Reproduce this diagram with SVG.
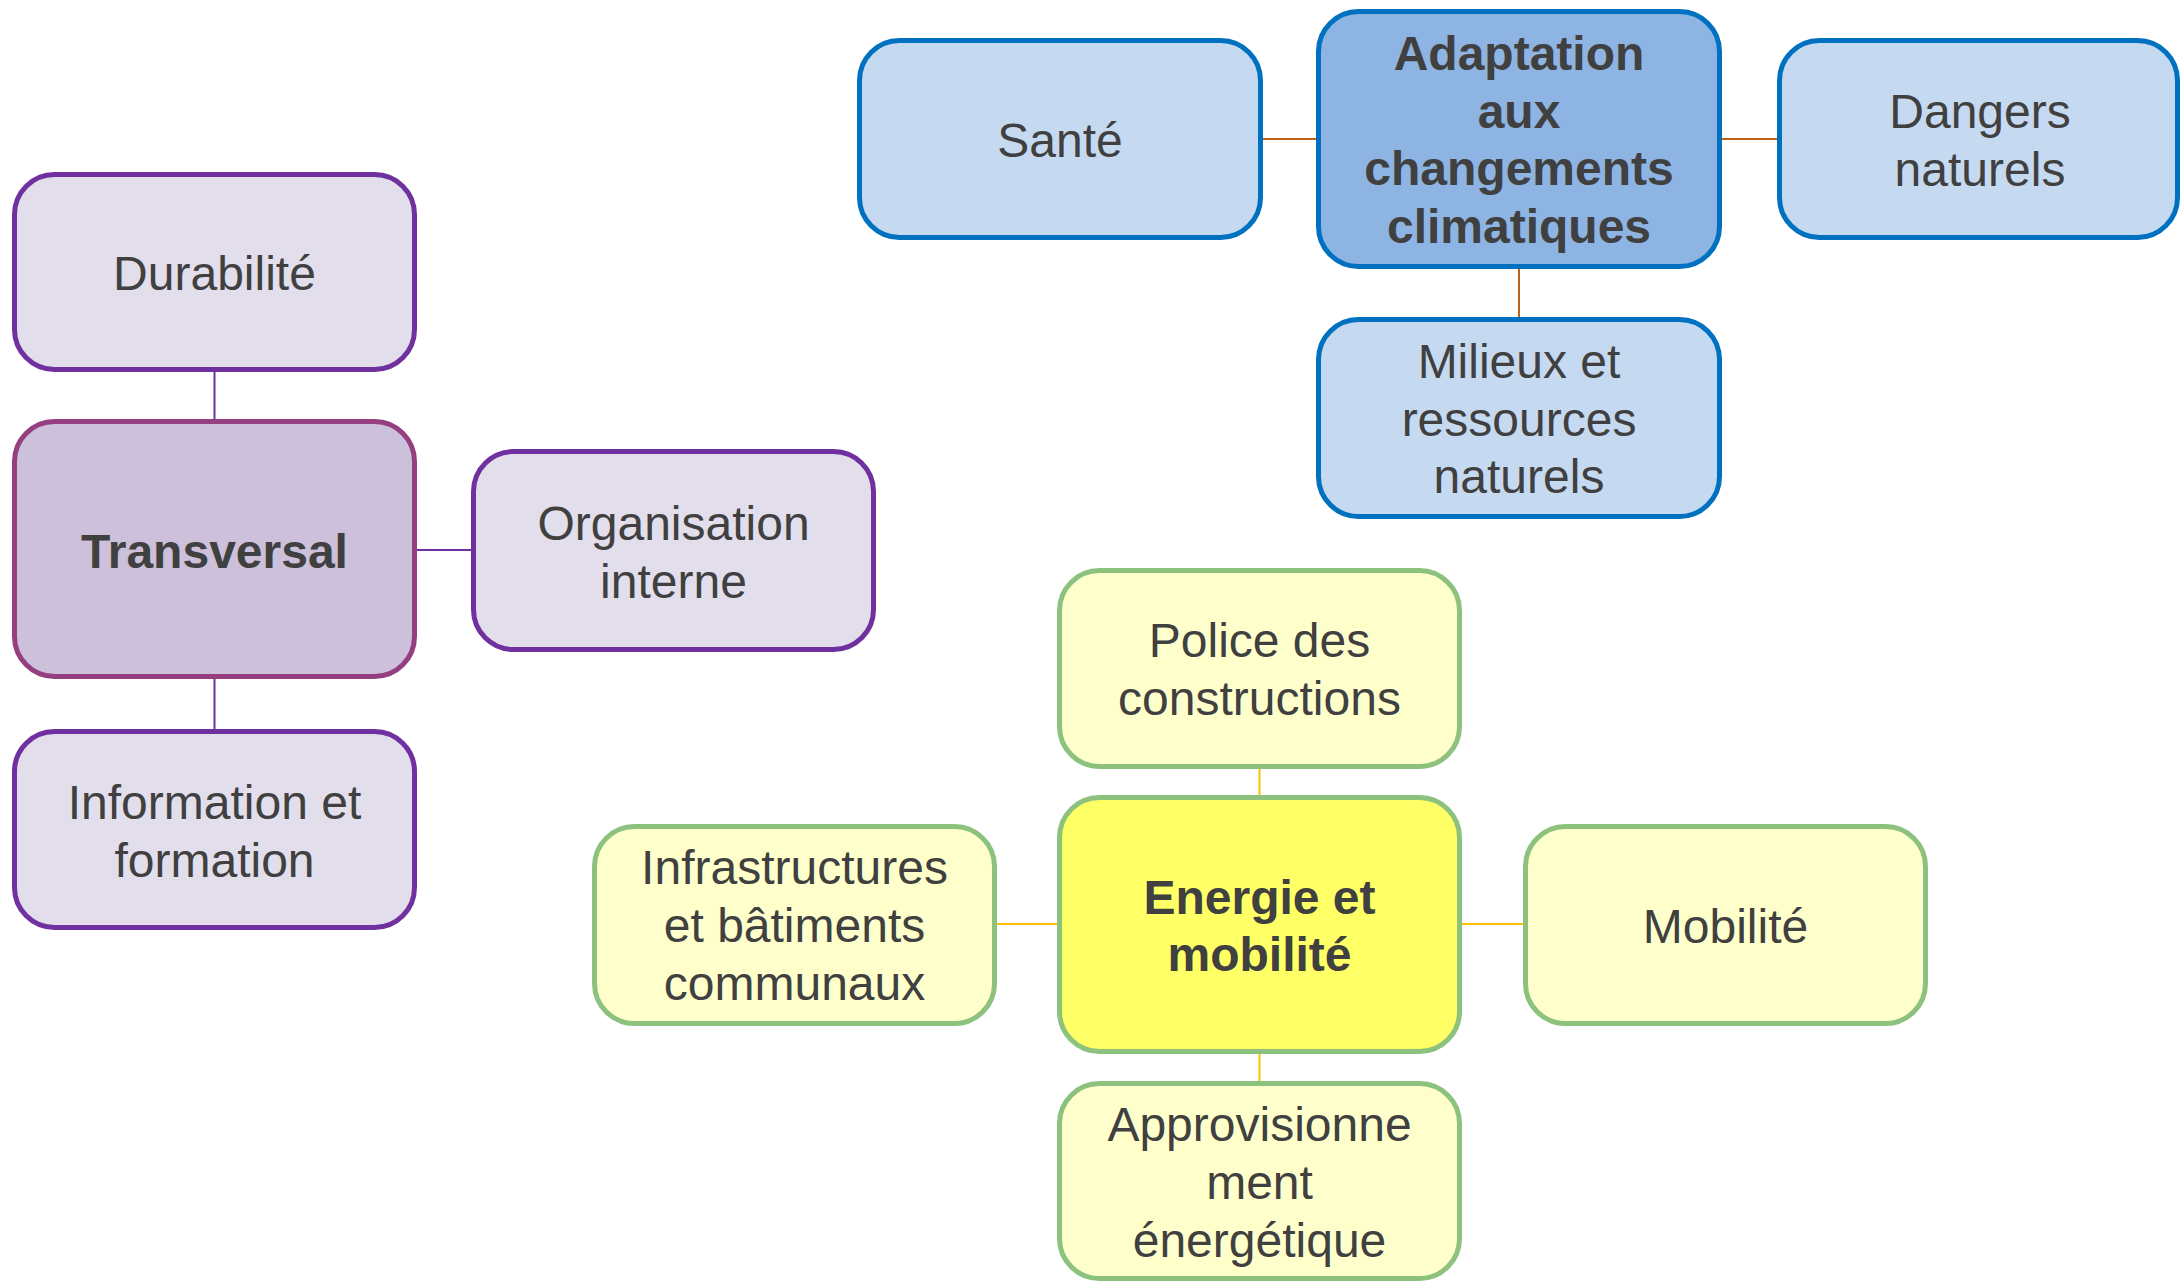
<svg xmlns="http://www.w3.org/2000/svg" width="2180" height="1281" viewBox="0 0 2180 1281">
<style>
text{font-family:"Liberation Sans",Arial,sans-serif;font-size:48px;fill:#404040;text-anchor:middle}
.b{font-weight:bold}
rect{stroke-width:5}
.p{fill:#E2DEEC;stroke:#7030A0}
.pc{fill:#CCC0DA;stroke:#953F80}
.bl{fill:#C5D9F1;stroke:#0070C0}
.bc{fill:#8EB4E3;stroke:#0070C0}
.g{fill:#FFFFCC;stroke:#8CC27E}
.gc{fill:#FFFF66;stroke:#8CC27E}
.cp{stroke:#7030A0;stroke-width:2;fill:none}
.co{stroke:#BF6218;stroke-width:2;fill:none}
.cy{stroke:#FFC000;stroke-width:2;fill:none}
</style>
<rect width="2180" height="1281" fill="#FFFFFF" style="stroke:none"/>
<g id="connectors">
<line class="cp" x1="214.5" y1="372" x2="214.5" y2="419"/>
<line class="cp" x1="417" y1="550" x2="471" y2="550"/>
<line class="cp" x1="214.5" y1="679" x2="214.5" y2="729"/>
<line class="co" x1="1263" y1="139" x2="1316" y2="139"/>
<line class="co" x1="1722" y1="139" x2="1777" y2="139"/>
<line class="co" x1="1519" y1="269" x2="1519" y2="317"/>
<line class="cy" x1="1259.5" y1="769" x2="1259.5" y2="795"/>
<line class="cy" x1="997" y1="924" x2="1057" y2="924"/>
<line class="cy" x1="1462" y1="924" x2="1523" y2="924"/>
<line class="cy" x1="1259.5" y1="1054" x2="1259.5" y2="1081"/>
</g>
<g id="durabilite">
<rect class="p" x="14.5" y="174.5" width="400" height="195" rx="40"/>
<text x="214.5" y="290">Durabilité</text>
</g>
<g id="transversal">
<rect class="pc" x="14.5" y="421.5" width="400" height="255" rx="40"/>
<text class="b" x="214.5" y="568">Transversal</text>
</g>
<g id="organisation">
<rect class="p" x="473.5" y="451.5" width="400" height="198" rx="40"/>
<text x="673.5" y="540">Organisation</text>
<text x="673.5" y="598">interne</text>
</g>
<g id="information">
<rect class="p" x="14.5" y="731.5" width="400" height="196" rx="40"/>
<text x="214.5" y="819">Information et</text>
<text x="214.5" y="877">formation</text>
</g>
<g id="sante">
<rect class="bl" x="859.5" y="40.5" width="401" height="197" rx="40"/>
<text x="1060" y="157">Santé</text>
</g>
<g id="adaptation">
<rect class="bc" x="1318.5" y="11.5" width="401" height="255" rx="40"/>
<text class="b" x="1519" y="70">Adaptation</text>
<text class="b" x="1519" y="127.6">aux</text>
<text class="b" x="1519" y="185.2">changements</text>
<text class="b" x="1519" y="242.8">climatiques</text>
</g>
<g id="dangers">
<rect class="bl" x="1779.5" y="40.5" width="398" height="197" rx="40"/>
<text x="1980" y="128">Dangers</text>
<text x="1980" y="185.6">naturels</text>
</g>
<g id="milieux">
<rect class="bl" x="1318.5" y="319.5" width="401" height="197" rx="40"/>
<text x="1519" y="378">Milieux et</text>
<text x="1519" y="435.6">ressources</text>
<text x="1519" y="493.2">naturels</text>
</g>
<g id="police">
<rect class="g" x="1059.5" y="570.5" width="400" height="196" rx="40"/>
<text x="1259.5" y="657">Police des</text>
<text x="1259.5" y="714.6">constructions</text>
</g>
<g id="energie">
<rect class="gc" x="1059.5" y="797.5" width="400" height="254" rx="40"/>
<text class="b" x="1259.5" y="913.5">Energie et</text>
<text class="b" x="1259.5" y="971.1">mobilité</text>
</g>
<g id="infrastructures">
<rect class="g" x="594.5" y="826.5" width="400" height="197" rx="40"/>
<text x="794.5" y="884.4">Infrastructures</text>
<text x="794.5" y="942">et bâtiments</text>
<text x="794.5" y="999.6">communaux</text>
</g>
<g id="mobilite">
<rect class="g" x="1525.5" y="826.5" width="400" height="197" rx="40"/>
<text x="1725.5" y="943">Mobilité</text>
</g>
<g id="approvisionnement">
<rect class="g" x="1059.5" y="1083.5" width="400" height="195" rx="40"/>
<text x="1259.5" y="1141.4">Approvisionne</text>
<text x="1259.5" y="1199">ment</text>
<text x="1259.5" y="1256.6">énergétique</text>
</g>
</svg>
